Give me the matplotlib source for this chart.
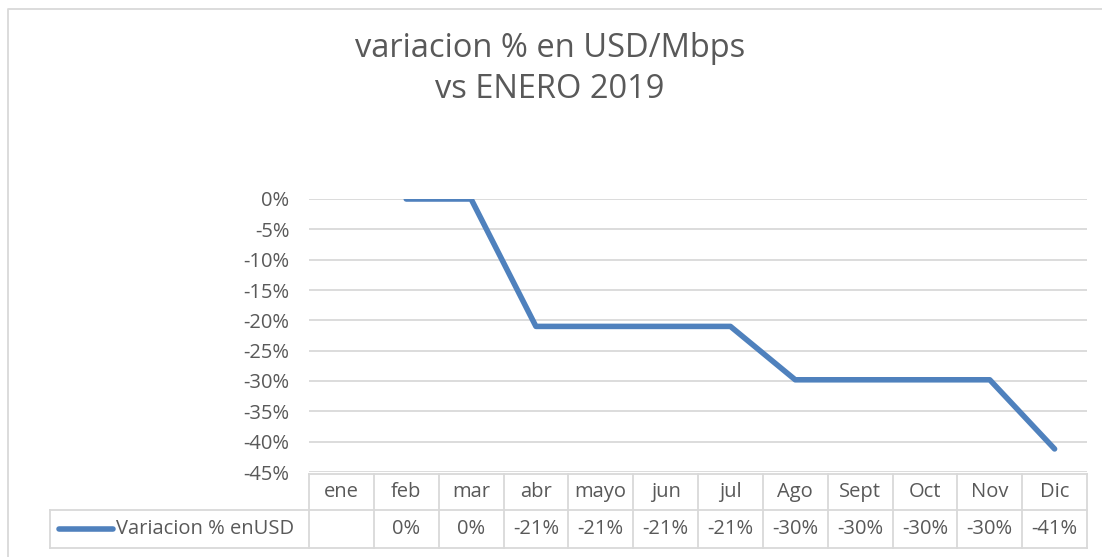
import matplotlib
matplotlib.use("Agg")
import matplotlib.pyplot as plt
from matplotlib.transforms import blended_transform_factory
from matplotlib.lines import Line2D

months = ["ene", "feb", "mar", "abr", "mayo", "jun", "jul", "Ago", "Sept", "Oct", "Nov", "Dic"]
values = [None, 0.0, 0.0, -0.21, -0.21, -0.21, -0.21, -0.298, -0.298, -0.298, -0.298, -0.412]
table_labels = ["", "0%", "0%", "-21%", "-21%", "-21%", "-21%", "-30%", "-30%", "-30%", "-30%", "-41%"]
yticks = [0, -0.05, -0.10, -0.15, -0.20, -0.25, -0.30, -0.35, -0.40, -0.45]
series_name = "Variacion % enUSD"
title = "variacion % en USD/Mbps\nvs ENERO 2019"

FONT = ["Open Sans", "DejaVu Sans"]
TXT = "#595959"
GRID = "#d9d9d9"
BLUE = "#4f81bd"
FS = 14.5

W, H = 1102, 557
fig = plt.figure(figsize=(W / 100, H / 100), dpi=100)

def fx(px):
    return px / W

def fy(py):
    return 1 - py / H

left, right, top, bottom = 309, 1087, 199, 472
ax = fig.add_axes([fx(left), fy(bottom), fx(right) - fx(left), fy(top) - fy(bottom)])
ax.set_xlim(-0.5, len(months) - 0.5)
ax.set_ylim(-0.45, 0)
for s in ax.spines.values():
    s.set_visible(False)
ax.set_yticks(yticks)
ax.set_yticklabels([f"{round(v*100)}%" for v in yticks], fontsize=FS, color=TXT, family=FONT)
ax.tick_params(axis="y", length=0, pad=14)
ax.set_xticks([])
ax.grid(axis="y", color=GRID, lw=1.3)
ax.set_axisbelow(True)

xs = [i for i, v in enumerate(values) if v is not None]
ys = [v for v in values if v is not None]
ax.plot(xs, ys, color=BLUE, lw=4, solid_capstyle="round", solid_joinstyle="round", zorder=3)

# Data table below the plot
tr = blended_transform_factory(ax.transData, fig.transFigure)
row0, row1, row2 = fy(474), fy(510), fy(548)
n = len(months)
lk = dict(color=GRID, lw=1.3, transform=tr, clip_on=False)
fig.add_artist(Line2D([-0.5, n - 0.5], [row0, row0], **lk))
trf = fig.transFigure
for yy in (row1, row2):
    fig.add_artist(Line2D([fx(50), fx(right)], [yy, yy], color=GRID, lw=1.3, transform=trf))
for i in range(n + 1):
    fig.add_artist(Line2D([i - 0.5, i - 0.5], [row2, row0], **lk))
fig.add_artist(Line2D([fx(50), fx(50)], [row2, row1], color=GRID, lw=1.3, transform=trf))

for i, m in enumerate(months):
    fig.text(i, (row0 + row1) / 2, m, transform=tr, ha="center", va="center",
             fontsize=FS, color=TXT, family=FONT)
    fig.text(i, (row1 + row2) / 2, table_labels[i], transform=tr, ha="center", va="center",
             fontsize=FS, color=TXT, family=FONT)

ymid = (row1 + row2) / 2
fig.add_artist(Line2D([fx(59), fx(113)], [ymid, ymid], color=BLUE, lw=4,
                      solid_capstyle="round", transform=trf))
fig.text(fx(116), ymid, series_name, ha="left", va="center", fontsize=FS, color=TXT,
         family=FONT, transform=trf)

# Chart border (left & top visible)
fig.add_artist(Line2D([fx(8), fx(8), fx(W + 5)], [fy(H + 5), fy(9), fy(9)],
                      color=GRID, lw=1.3, transform=trf))

fig.text(fx(550), fy(69), title, ha="center", va="center", fontsize=23.5, color=TXT,
         family=FONT, linespacing=1.3)

fig.savefig("out.png", dpi=100, facecolor="white")
